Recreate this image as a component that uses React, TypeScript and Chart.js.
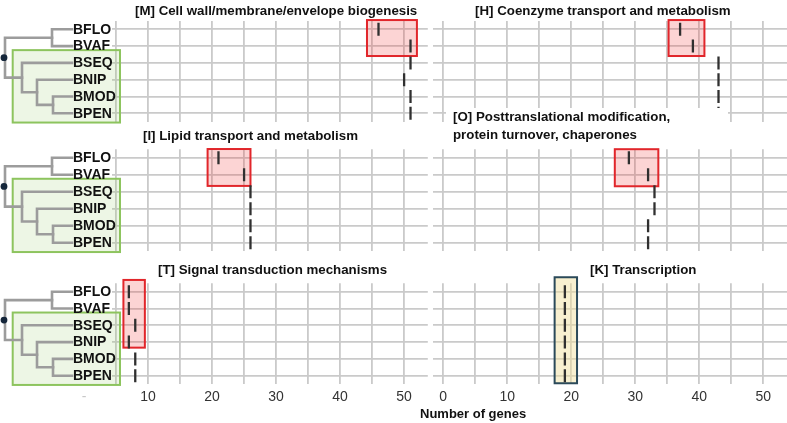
import React, { useEffect, useRef } from "react";
import { Chart, registerables } from "chart.js";

Chart.register(...registerables);
Chart.defaults.font.family = "'Liberation Sans', Arial, Helvetica, sans-serif";

// ---- data ----
const species = ["BFLO", "BVAF", "BSEQ", "BNIP", "BMOD", "BPEN"];

const cellWallGenes = [46, 51, 51, 50, 51, 51];
const coenzymeGenes = [37, 39, 43, 43, 43, 43];
const lipidGenes = [21, 25, 26, 26, 26, 26];
const posttransGenes = [29, 32, 33, 33, 32, 32];
const signalGenes = [7, 7, 8, 7, 8, 8];
const transcriptionGenes = [19, 19, 19, 19, 19, 19];

// highlighted gene-count ranges: [from, to] in genes
const cellWallRange = [44.2, 52.0];
const coenzymeRange = [35.2, 40.8];
const lipidRange = [19.3, 26.0];
const posttransRange = [26.8, 33.6];
const signalRange = [6.15, 9.5];
const transcriptionRange = [17.4, 20.9];

const X_MIN = -1.6;
const X_MAX = 53.7;
const X_STEP = 5;

// ---- page geometry ----
const W = 787;
const H = 423;
const AXIS_H = 25;
const COLS = [
  { left: 73.8, right: 427.8 },
  { left: 433, right: 787 },
];
const ROWS = [
  { top: 20.9, bottom: 121.7 },
  { top: 149.2, bottom: 251.2 },
  { top: 283.3, bottom: 384.1 },
];

const GRID = "#cacaca";
const MARK = "#303030";

type Box = {
  range: number[];
  rows: number[];
  fill: string;
  stroke: string;
};

type PanelSpec = {
  values: number[];
  col: number;
  row: number;
  box: Box;
};

const redBox = (range: number[], rows: number[]): Box => ({
  range,
  rows,
  fill: "rgba(240, 60, 60, 0.22)",
  stroke: "#e1262b",
});

const panels: PanelSpec[] = [
  { values: cellWallGenes, col: 0, row: 0, box: redBox(cellWallRange, [-0.55, 1.59]) },
  { values: coenzymeGenes, col: 1, row: 0, box: redBox(coenzymeRange, [-0.55, 1.59]) },
  { values: lipidGenes, col: 0, row: 1, box: redBox(lipidRange, [-0.51, 1.66]) },
  { values: posttransGenes, col: 1, row: 1, box: redBox(posttransRange, [-0.5, 1.68]) },
  { values: signalGenes, col: 0, row: 2, box: redBox(signalRange, [-0.7, 3.33]) },
  {
    values: transcriptionGenes,
    col: 1,
    row: 2,
    box: {
      range: transcriptionRange,
      rows: [-0.86, 5.45],
      fill: "rgba(240, 222, 150, 0.45)",
      stroke: "#2b4a5a",
    },
  },
];

// cladogram: leaves are row indices, nodes carry their x position (px)
type TreeNode = { x: number; children: (TreeNode | number)[] };
const tree: TreeNode = {
  x: 5,
  children: [
    { x: 52, children: [0, 1] },
    { x: 22, children: [2, { x: 37, children: [3, { x: 53, children: [4, 5] }] }] },
  ],
};
const LEAF_X = 72;

const titles = [
  { text: "[M] Cell wall/membrane/envelope biogenesis", left: 135, top: 3.4 },
  { text: "[H] Coenzyme transport and metabolism", left: 475, top: 3.4 },
  { text: "[I] Lipid transport and metabolism", left: 143, top: 128.4 },
  { text: "[O] Posttranslational modification,", left: 453, top: 109 },
  { text: "protein turnover, chaperones", left: 453, top: 127 },
  { text: "[T] Signal transduction mechanisms", left: 158, top: 262.4 },
  { text: "[K] Transcription", left: 590, top: 262.4 },
];

function highlightPlugin(box: Box) {
  return {
    id: "highlight",
    beforeDatasetsDraw(chart: any) {
      const { ctx } = chart;
      const xs = chart.scales.x;
      const ys = chart.scales.y;
      const x0 = xs.getPixelForValue(box.range[0]);
      const x1 = xs.getPixelForValue(box.range[1]);
      const y0 = ys.getPixelForValue(box.rows[0]);
      const y1 = ys.getPixelForValue(box.rows[1]);
      ctx.save();
      ctx.fillStyle = box.fill;
      ctx.fillRect(x0, y0, x1 - x0, y1 - y0);
      ctx.strokeStyle = box.stroke;
      ctx.lineWidth = 2;
      ctx.strokeRect(x0, y0, x1 - x0, y1 - y0);
      ctx.restore();
    },
  };
}

const treePlugin = {
  id: "cladogram",
  afterDatasetsDraw(chart: any) {
    const { ctx, chartArea } = chart;
    const ys = chart.scales.y;
    const rowY = (i: number) => ys.getPixelForValue(i);
    ctx.save();
    ctx.fillStyle = "#ffffff";
    ctx.fillRect(0, chartArea.top - 1, 112, chartArea.bottom - chartArea.top + 2);

    // clade box around the lower group
    const bx0 = 12.7;
    const bx1 = 120;
    const by0 = rowY(1.24);
    const by1 = rowY(5.55);
    ctx.fillStyle = "rgba(150, 200, 100, 0.17)";
    ctx.fillRect(bx0, by0, bx1 - bx0, by1 - by0);
    ctx.strokeStyle = "#8dc45e";
    ctx.lineWidth = 2;
    ctx.strokeRect(bx0, by0, bx1 - bx0, by1 - by0);

    // branches
    ctx.strokeStyle = "#9c9c9c";
    ctx.lineWidth = 2.6;
    ctx.lineCap = "square";
    const draw = (node: TreeNode): number => {
      const ends = node.children.map((c) => {
        if (typeof c === "number") return { x: LEAF_X, y: rowY(c) };
        return { x: c.x, y: draw(c) };
      });
      const yTop = ends[0].y;
      const yBot = ends[ends.length - 1].y;
      ctx.beginPath();
      ctx.moveTo(node.x, yTop);
      ctx.lineTo(node.x, yBot);
      ends.forEach((e) => {
        ctx.moveTo(node.x, e.y);
        ctx.lineTo(e.x, e.y);
      });
      ctx.stroke();
      return (yTop + yBot) / 2;
    };
    const rootY = draw(tree);

    // root marker
    ctx.fillStyle = "#15263a";
    ctx.beginPath();
    ctx.arc(4, rootY, 3.4, 0, Math.PI * 2);
    ctx.fill();

    // leaf names
    ctx.fillStyle = "#111111";
    ctx.font = "bold 14px 'Liberation Sans', Arial, sans-serif";
    ctx.textBaseline = "middle";
    ctx.textAlign = "left";
    species.forEach((s, i) => ctx.fillText(s, LEAF_X + 1, rowY(i) + 0.5));
    ctx.restore();
  },
};

function buildConfig(spec: PanelSpec): any {
  const col = COLS[spec.col];
  const row = ROWS[spec.row];
  const bottomRow = spec.row === ROWS.length - 1;
  const leftCol = spec.col === 0;
  const plugins: any[] = [highlightPlugin(spec.box)];
  if (leftCol) plugins.push(treePlugin);

  return {
    type: "scatter",
    data: {
      datasets: [
        {
          data: species.map((s, i) => ({ x: spec.values[i], y: s })),
          pointStyle: "line",
          rotation: 90,
          radius: 6.5,
          borderWidth: 2.3,
          borderColor: MARK,
          backgroundColor: MARK,
        },
      ],
    },
    options: {
      responsive: false,
      animation: false,
      events: [],
      layout: {
        autoPadding: false,
        padding: {
          left: col.left,
          right: W - col.right,
          top: row.top,
          bottom: H - row.bottom - (bottomRow ? AXIS_H : 0),
        },
      },
      plugins: {
        legend: { display: false },
        tooltip: { enabled: false },
      },
      scales: {
        x: {
          type: "linear",
          min: X_MIN,
          max: X_MAX,
          border: { display: false },
          grid: { color: GRID, lineWidth: 1.8, drawTicks: false },
          ticks: {
            display: bottomRow,
            stepSize: X_STEP,
            includeBounds: false,
            autoSkip: false,
            maxRotation: 0,
            padding: 5,
            font: { size: 14 },
            color: (c: any) => (leftCol && c.tick && c.tick.value === 0 ? "#c8c8c8" : "#333333"),
            callback: (v: number) => {
              if (v % 10 !== 0) return "";
              if (leftCol && v === 0) return "-";
              return String(v);
            },
          },
          afterFit: (s: any) => {
            s.height = bottomRow ? AXIS_H : 0;
          },
        },
        y: {
          type: "category",
          labels: species,
          offset: true,
          border: { display: false },
          grid: { color: GRID, lineWidth: 1.8, drawTicks: false, offset: false },
          ticks: { display: false },
          afterFit: (s: any) => {
            s.width = 0;
          },
        },
      },
    },
    plugins,
  };
}

function Panel({ spec }: { spec: PanelSpec }) {
  const ref = useRef<HTMLCanvasElement>(null);
  useEffect(() => {
    const chart = new Chart(ref.current as HTMLCanvasElement, buildConfig(spec));
    return () => chart.destroy();
  }, [spec]);
  return (
    <canvas
      ref={ref}
      width={W}
      height={H}
      style={{ position: "absolute", left: 0, top: 0, width: W, height: H }}
    />
  );
}

const titleStyle: React.CSSProperties = {
  position: "absolute",
  fontFamily: "'Liberation Sans', Arial, sans-serif",
  fontWeight: "bold",
  fontSize: "13.3px",
  lineHeight: "16px",
  color: "#111111",
  whiteSpace: "nowrap",
  zIndex: 2,
};

export default function App() {
  return (
    <div
      style={{
        position: "fixed",
        left: 0,
        top: 0,
        width: W,
        height: H,
        background: "#ffffff",
        overflow: "hidden",
      }}
    >
      {panels.map((p, i) => (
        <Panel key={i} spec={p} />
      ))}
      {/* strip behind the two-line [O] heading */}
      <div
        style={{
          position: "absolute",
          left: 446,
          top: 107.5,
          width: 282,
          height: 16,
          background: "#ffffff",
          zIndex: 1,
        }}
      />
      {titles.map((t, i) => (
        <div key={i} style={{ ...titleStyle, left: t.left, top: t.top }}>
          {t.text}
        </div>
      ))}
      <div style={{ ...titleStyle, fontSize: "13px", left: 420, top: 405.5 }}>Number of genes</div>
    </div>
  );
}
